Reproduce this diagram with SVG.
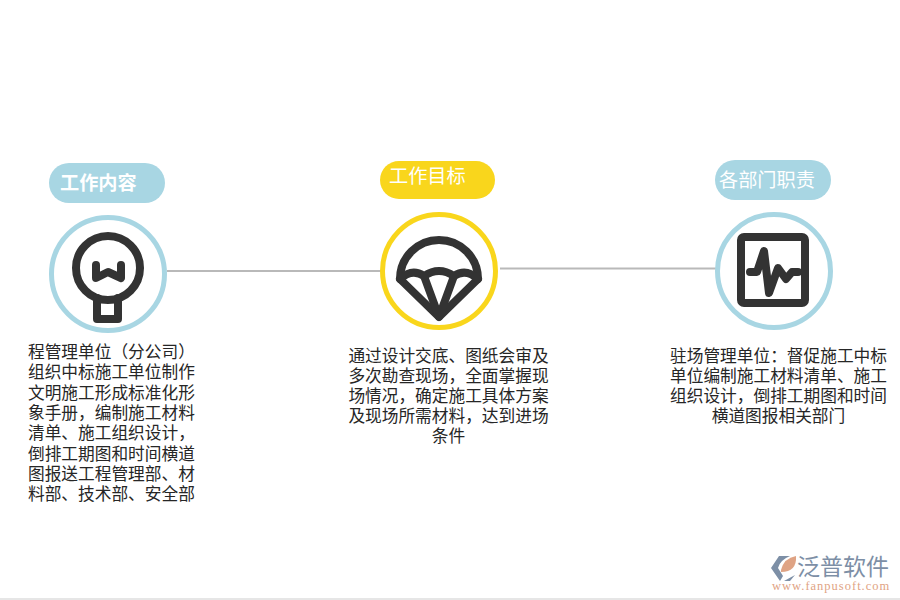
<svg xmlns="http://www.w3.org/2000/svg" width="900" height="600" viewBox="0 0 900 600">
<style>
text{font-family:"Noto Sans CJK SC","Liberation Sans",sans-serif}
.body{font-size:16.7px;fill:#262626}
.mid{text-anchor:middle}
.pill{font-size:19.2px;fill:#fff}
.conn{stroke:#b9b9b9;stroke-width:2;fill:none}
.ring{fill:#fff;stroke-width:5}
.ic{fill:none;stroke:#333;stroke-width:8;stroke-linecap:round;stroke-linejoin:round}
.blue{fill:#a8d6e3}
.yellow{fill:#f9d61c}
</style>
<rect width="900" height="600" fill="#fff"/>
<rect y="598" width="900" height="2" fill="#e6e6e6"/>
<g id="connectors">
<line class="conn" x1="167" y1="271" x2="381" y2="271"/>
<line class="conn" x1="500" y1="268.500" x2="716" y2="268.500"/>
</g>
<g id="node-content">
<rect class="blue" x="49" y="163" width="116" height="40" rx="20"/>
<text class="pill" x="60" y="190" font-weight="700">工作内容</text>
<circle class="ring" cx="108" cy="274" r="56.500" stroke="#a8d6e3"/>
<circle class="ic" cx="108" cy="268" r="32"/>
<path class="ic" d="M97 298V319H118V298"/>
<path class="ic" d="M96 265V278L108 272L121 278V265"/>
<text class="body" x="28" y="358">程管理单位（分公司）</text>
<text class="body" x="28" y="378.300">组织中标施工单位制作</text>
<text class="body" x="28" y="398.600">文明施工形成标准化形</text>
<text class="body" x="28" y="418.900">象手册，编制施工材料</text>
<text class="body" x="28" y="439.200">清单、施工组织设计，</text>
<text class="body" x="28" y="459.500">倒排工期图和时间横道</text>
<text class="body" x="28" y="479.800">图报送工程管理部、材</text>
<text class="body" x="28" y="500.100">料部、技术部、安全部</text>
</g>
<g id="node-goal">
<rect class="yellow" x="380" y="161" width="115" height="38" rx="19"/>
<text class="pill" x="389" y="183">工作目标</text>
<circle class="ring" cx="439" cy="271" r="56.500" stroke="#f9d61c"/>
<path class="ic" d="M400 279A39 39 0 0 1 478 279L439 317Z"/>
<path class="ic" d="M400 279Q412 268 424 276Q439 266 454 276Q466 268 478 279"/>
<path class="ic" d="M424 276L439 317L454 276" stroke-width="7"/>
<text class="body mid" x="448.500" y="362">通过设计交底、图纸会审及</text>
<text class="body mid" x="448.500" y="382">多次勘查现场，全面掌握现</text>
<text class="body mid" x="448.500" y="402">场情况，确定施工具体方案</text>
<text class="body mid" x="448.500" y="422">及现场所需材料，达到进场</text>
<text class="body mid" x="448.500" y="442">条件</text>
</g>
<g id="node-duty">
<rect class="blue" x="715" y="160" width="116" height="40" rx="20"/>
<text class="pill" x="719" y="187">各部门职责</text>
<circle class="ring" cx="774" cy="271" r="56.500" stroke="#a8d6e3"/>
<rect class="ic" x="741" y="237" width="64" height="66" rx="3"/>
<path class="ic" d="M750 272H757L764 251L769 293L778 268L786 279L792 272H798" stroke-width="7"/>
<text class="body mid" x="778.500" y="362">驻场管理单位：督促施工中标</text>
<text class="body mid" x="778.500" y="382">单位编制施工材料清单、施工</text>
<text class="body mid" x="778.500" y="402">组织设计，倒排工期图和时间</text>
<text class="body mid" x="778.500" y="422">横道图报相关部门</text>
</g>
<g id="logo">
<path d="M771 568L779 556H790Q780 560 778 568L783 576L780 581Z" fill="#7d8fa6"/>
<path d="M781 570Q784 558 796 556Q797 572 781 572Z" fill="#dfa384"/>
<path d="M784 581L795 575L790 581Z" fill="#7d8fa6"/>
<text x="797" y="575" font-size="23" fill="#7d8fa6">泛普软件</text>
<text x="772" y="590" font-size="12.500" letter-spacing="1" fill="#dfa384" style="font-family:'Liberation Serif',serif">www.fanpusoft.com</text>
</g>
</svg>
